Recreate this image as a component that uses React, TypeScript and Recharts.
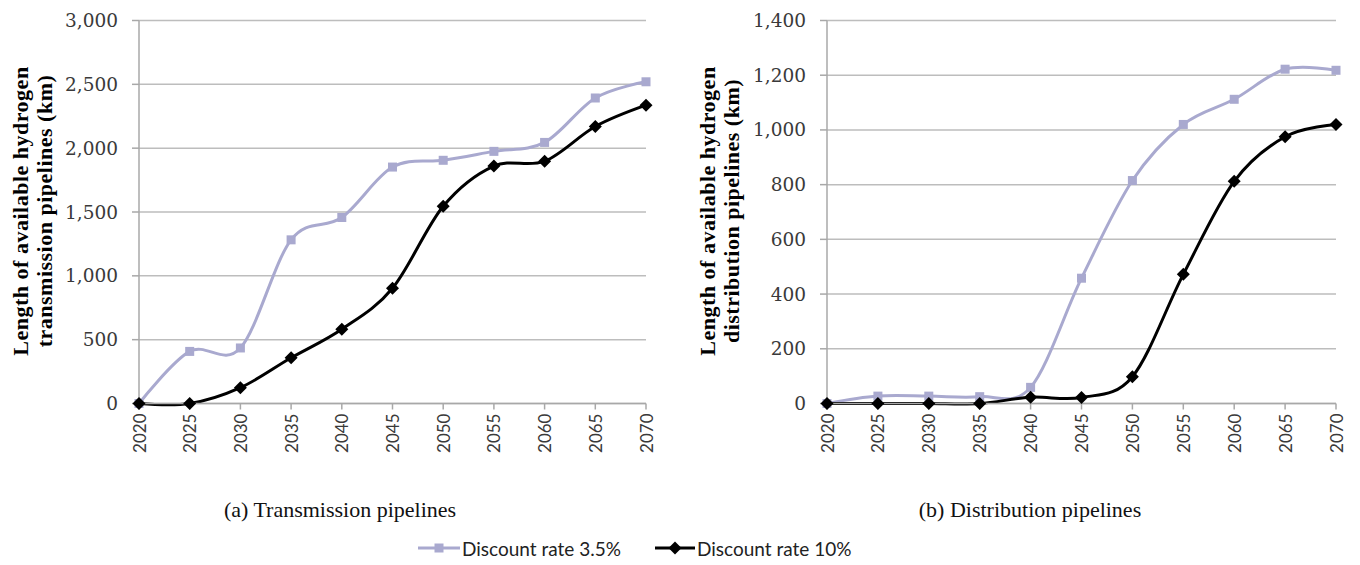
import React from 'react';
import { LineChart, Line, XAxis, YAxis, CartesianGrid } from 'recharts';

const years = ['2020', '2025', '2030', '2035', '2040', '2045', '2050', '2055', '2060', '2065', '2070'];
const transmission35 = [0, 408, 435, 1282, 1457, 1852, 1905, 1975, 2045, 2393, 2520];
const transmission10 = [0, 0, 124, 358, 582, 903, 1545, 1860, 1898, 2170, 2337];
const distribution35 = [0, 27, 27, 25, 59, 458, 815, 1020, 1112, 1222, 1218];
const distribution10 = [0, 0, 0, 0, 23, 22, 98, 472, 812, 975, 1020];
const transmissionTicks = [0, 500, 1000, 1500, 2000, 2500, 3000];
const distributionTicks = [0, 200, 400, 600, 800, 1000, 1200, 1400];
const seriesNames = ['Discount rate 3.5%', 'Discount rate 10%'];
const captions = ['(a) Transmission pipelines', '(b) Distribution pipelines'];
const transmissionTitle = ['Length of available hydrogen', 'transmission pipelines (km)'];
const distributionTitle = ['Length of available hydrogen', 'distribution pipelines (km)'];

const COLOR_35 = '#a9a9cf';
const COLOR_10 = '#000000';
const GRID = '#bdbdbd';
const AXIS = '#a8a8a8';

const transmissionData = years.map((y, i) => ({ year: y, a: transmission35[i], b: transmission10[i] }));
const distributionData = years.map((y, i) => ({ year: y, a: distribution35[i], b: distribution10[i] }));

// Catmull-Rom style smoothing (similar to spreadsheet "smoothed line")
function smoothCurve(context: any) {
  let x0 = NaN, y0 = NaN, x1 = NaN, y1 = NaN, x2 = NaN, y2 = NaN;
  let state = 0;
  let line: number = NaN;
  const k = 1 / 6;
  const seg = (x: number, y: number) =>
    context.bezierCurveTo(x1 + k * (x2 - x0), y1 + k * (y2 - y0), x2 + k * (x1 - x), y2 + k * (y1 - y), x2, y2);
  return {
    areaStart() { line = 0; },
    areaEnd() { line = NaN; },
    lineStart() { x0 = x1 = x2 = y0 = y1 = y2 = NaN; state = 0; },
    lineEnd() {
      if (state === 2) context.lineTo(x2, y2);
      else if (state === 3) seg(x1, y1);
      if (line || (line !== 0 && state === 1)) context.closePath();
      line = 1 - line;
    },
    point(x: number, y: number) {
      x = +x; y = +y;
      switch (state) {
        case 0: state = 1; if (line) context.lineTo(x, y); else context.moveTo(x, y); break;
        case 1: state = 2; x1 = x; y1 = y; break;
        case 2: state = 3; seg(x, y); break;
        default: seg(x, y); break;
      }
      x0 = x1; x1 = x2; x2 = x;
      y0 = y1; y1 = y2; y2 = y;
    },
  };
}

const fmt = (v: number) => v.toLocaleString('en-US');

const SquareDot = (p: any) => {
  if (p.cx == null || p.cy == null) return <g key={p.index} />;
  return <rect key={p.index} x={p.cx - 4.5} y={p.cy - 4.5} width={9} height={9} fill={COLOR_35} />;
};
const DiamondDot = (p: any) => {
  if (p.cx == null || p.cy == null) return <g key={p.index} />;
  const { cx, cy } = p;
  return <path key={p.index} d={`M${cx},${cy - 6.5}L${cx + 6.5},${cy}L${cx},${cy + 6.5}L${cx - 6.5},${cy}Z`} fill={COLOR_10} />;
};

const XTick = (props: any) => {
  const { x, y, payload } = props;
  const ty = y + 4;
  return (
    <text
      x={x}
      y={ty}
      transform={`rotate(-90, ${x}, ${ty})`}
      textAnchor="end"
      dominantBaseline="central"
      fontFamily="Lato, 'Liberation Sans', sans-serif"
      fontSize={17}
      fill="#3a3a3a"
    >
      {payload.value}
    </text>
  );
};

function Panel({ data, ticks, max, yWidth, rightMargin }: { data: any[]; ticks: number[]; max: number; yWidth: number; rightMargin: number }) {
  return (
    <LineChart width={680} height={460} data={data} margin={{ top: 20.5, right: rightMargin, bottom: 0, left: 0 }}>
      <CartesianGrid vertical={false} stroke={GRID} strokeWidth={1.5} />
      <XAxis
        dataKey="year"
        interval={0}
        tickSize={6}
        tickMargin={0}
        height={56.5}
        tick={<XTick />}
        stroke={AXIS}
        strokeWidth={1.5}
      />
      <YAxis
        width={yWidth}
        domain={[0, max]}
        ticks={ticks}
        tickSize={7}
        tickMargin={14}
        tickFormatter={fmt}
        tick={{ fontFamily: 'DejaVu Serif', fontSize: 18.5, fill: '#3a3a3a' }}
        stroke={AXIS}
        strokeWidth={1.5}
      />
      <Line
        dataKey="a"
        name={seriesNames[0]}
        type={smoothCurve as any}
        stroke={COLOR_35}
        strokeWidth={3}
        dot={SquareDot}
        activeDot={false}
        isAnimationActive={false}
      />
      <Line
        dataKey="b"
        name={seriesNames[1]}
        type={smoothCurve as any}
        stroke={COLOR_10}
        strokeWidth={3}
        dot={DiamondDot}
        activeDot={false}
        isAnimationActive={false}
      />
    </LineChart>
  );
}

function YTitle({ lines, x1, x2, cy }: { lines: string[]; x1: number; x2: number; cy: number }) {
  const common = {
    textAnchor: 'middle' as const,
    dominantBaseline: 'central' as const,
    fontFamily: "'Liberation Serif', serif",
    fontWeight: 700,
    fontSize: 22,
    letterSpacing: 0.5,
    fill: '#000',
  };
  return (
    <g>
      <text x={x1} y={cy} transform={`rotate(-90, ${x1}, ${cy})`} {...common}>{lines[0]}</text>
      <text x={x2} y={cy} transform={`rotate(-90, ${x2}, ${cy})`} {...common}>{lines[1]}</text>
    </g>
  );
}

export default function App() {
  return (
    <div style={{ position: 'absolute', left: 0, top: 0, width: 1360, height: 565, background: '#fff', overflow: 'hidden' }}>
      <div style={{ position: 'absolute', left: 0, top: 0 }}>
        <Panel data={transmissionData} ticks={transmissionTicks} max={3000} yWidth={139} rightMargin={34} />
      </div>
      <div style={{ position: 'absolute', left: 680, top: 0 }}>
        <Panel data={distributionData} ticks={distributionTicks} max={1400} yWidth={147} rightMargin={24} />
      </div>
      <svg width={1360} height={565} style={{ position: 'absolute', left: 0, top: 0, pointerEvents: 'none' }}>
        <YTitle lines={transmissionTitle} x1={20} x2={44} cy={211} />
        <YTitle lines={distributionTitle} x1={707} x2={731} cy={211} />
        <text x={340} y={517} textAnchor="middle" fontFamily="'Liberation Serif', serif" fontSize={22} fill="#111">{captions[0]}</text>
        <text x={1030} y={517} textAnchor="middle" fontFamily="'Liberation Serif', serif" fontSize={22} fill="#111">{captions[1]}</text>
        <g>
          <line x1={418} x2={460} y1={548} y2={548} stroke={COLOR_35} strokeWidth={3} />
          <rect x={434.5} y={543.5} width={9} height={9} fill={COLOR_35} />
          <text x={462} y={548} dominantBaseline="central" fontFamily="Lato, 'Liberation Sans', sans-serif" fontSize={19} fill="#222">{seriesNames[0]}</text>
          <line x1={655} x2={695} y1={548} y2={548} stroke={COLOR_10} strokeWidth={3} />
          <path d="M675,541.5L681.5,548L675,554.5L668.5,548Z" fill={COLOR_10} />
          <text x={697} y={548} dominantBaseline="central" fontFamily="Lato, 'Liberation Sans', sans-serif" fontSize={19} fill="#222">{seriesNames[1]}</text>
        </g>
      </svg>
    </div>
  );
}
